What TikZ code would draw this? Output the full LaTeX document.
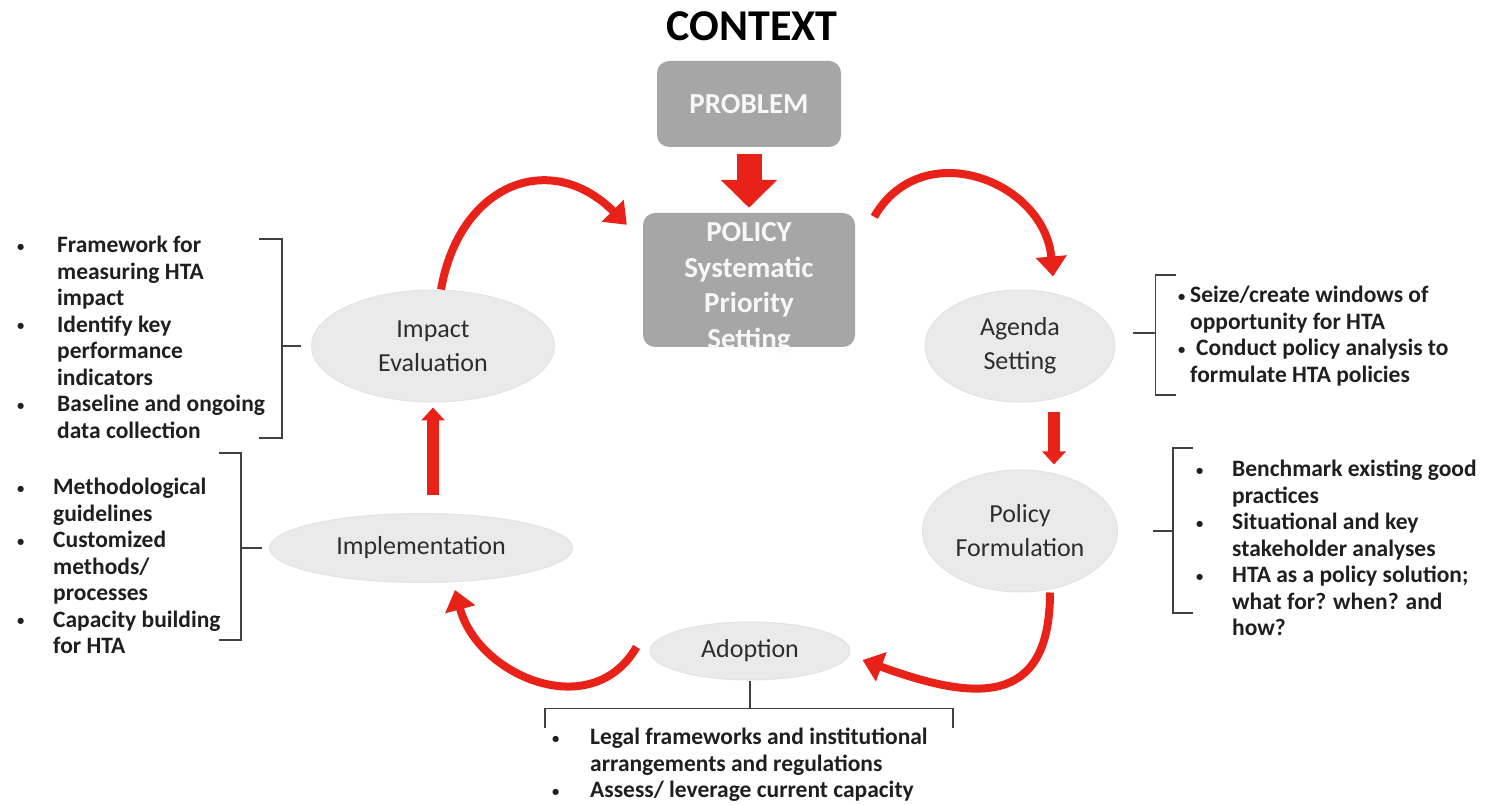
\documentclass[tikz,border=0pt]{standalone}
\usepackage{fontspec}
\usepackage{graphicx}
\setmainfont{Carlito}
\usetikzlibrary{shapes.geometric,arrows.meta,positioning}

\definecolor{boxgray}{RGB}{166,166,166}
\definecolor{ovalgray}{RGB}{234,234,234}
\definecolor{arrowred}{RGB}{232,34,24}
\definecolor{inkgray}{RGB}{45,45,45}

\newlength{\bulw}
\newcommand{\bul}{\strut\makebox[\bulw][l]{\raisebox{1.5pt}{\scalebox{0.62}{\textbullet}}}}
\newcommand{\ind}{\strut\hspace*{\bulw}}

\begin{document}
\begin{tikzpicture}[x=1pt,y=1pt,
    box/.style={rectangle,rounded corners=12pt,fill=boxgray,text=white!94!gray,
      font=\bfseries\fontsize{29}{35.5}\selectfont,align=center,inner sep=0pt},
    stage/.style={ellipse,fill=ovalgray,draw=gray!22,line width=1pt,text=inkgray,
      font=\fontsize{26}{34}\selectfont,align=center,inner sep=0pt},
    notes/.style={anchor=north west,inner sep=0pt,align=left,text=black!88,
      font=\bfseries\fontsize{23.5}{26.5}\selectfont},
    brace/.style={draw=black!75,line width=1.5pt},
    swoosh/.style={draw=arrowred,line width=8pt,-{Triangle[width=30pt,length=20pt]}},
    fatarrow/.style={draw=arrowred,line width=25pt,-{Triangle[width=55pt,length=28pt]}},
    thinarrow/.style={draw=arrowred,line width=12pt,-{Triangle[width=23pt,length=13pt]}}]

  \useasboundingbox (0,0) rectangle (1486,804);

  \node[font=\bfseries\fontsize{44}{50}\selectfont] (context) at (752,778) {CONTEXT};
  \node[box,minimum width=184pt,minimum height=86pt] (problem) at (749,700) {PROBLEM};
  \node[box,minimum width=212pt,minimum height=134pt] (policy) at (749,524)
    {\raisebox{-14pt}[0pt][0pt]{\begin{tabular}{@{}c@{}}POLICY\\Systematic\\Priority\\Setting\end{tabular}}};
  \node[stage,minimum width=243pt,minimum height=112pt] (impact) at (433,458) {Impact\\Evaluation};
  \node[stage,minimum width=190pt,minimum height=112pt] (agenda) at (1020,458) {Agenda\\Setting};
  \node[stage,minimum width=195pt,minimum height=122pt] (formulation) at (1020,273) {Policy\\Formulation};
  \node[stage,minimum width=200pt,minimum height=58pt] (adoption) at (750,153) {Adoption};
  \node[stage,minimum width=303pt,minimum height=69pt] (implementation) at (421,256) {Implementation};

  \setlength{\bulw}{40pt}
  \node[notes] (evalnotes) at (17,570)
    {\bul Framework for\\\ind measuring HTA\\\ind impact\\
     \bul Identify key\\\ind performance\\\ind indicators\\
     \bul Baseline and ongoing\\\ind data collection};
  \setlength{\bulw}{36pt}
  \node[notes] (implnotes) at (17,328)
    {\bul Methodological\\\ind guidelines\\
     \bul Customized\\\ind methods/\\\ind processes\\
     \bul Capacity building\\\ind for HTA};
  \setlength{\bulw}{12pt}
  \node[notes] (agendanotes) at (1178,520)
    {\bul Seize/create windows of\\\ind opportunity for HTA\\
     \bul\hspace{6pt}Conduct policy analysis to\\\ind formulate HTA policies};
  \setlength{\bulw}{36pt}
  \node[notes] (formnotes) at (1196,346)
    {\bul Benchmark existing good\\\ind practices\\
     \bul Situational and key\\\ind stakeholder analyses\\
     \bul HTA as a policy solution;\\\ind what for? when? and\\\ind how?};
  \setlength{\bulw}{38pt}
  \node[notes] (adoptnotes) at (552,78)
    {\bul Legal frameworks and institutional\\\ind arrangements and regulations\\
     \bul Assess/ leverage current capacity};

  \draw[fatarrow,shorten <=7pt,shorten >=5pt] (problem) -- (policy);
  \draw[thinarrow,shorten <=18pt,shorten >=5pt] (impact.south |- implementation.north) -- (impact.south);
  \draw[thinarrow,shorten <=10pt,shorten >=5pt] ([xshift=34pt]agenda.south) -- ([xshift=34pt]formulation.north);

  \draw[swoosh] ([xshift=8pt]impact.north) to[out=80,in=135,looseness=1.4]
    ([xshift=-16pt,yshift=-12pt]policy.north west);
  \draw[swoosh] ([xshift=19pt,yshift=-4pt]policy.north east) to[out=60,in=95,looseness=1.3]
    ([xshift=33pt,yshift=13pt]agenda.north);
  \draw[swoosh] ([xshift=30pt]formulation.south) to[out=-90,in=-20,looseness=1.5]
    ([xshift=12pt,yshift=-9pt]adoption.east);
  \draw[swoosh] ([xshift=-13pt,yshift=4pt]adoption.west) to[out=-120,in=-75,looseness=1.2]
    ([xshift=34pt,yshift=-7pt]implementation.south);

  \draw[brace] ([xshift=-10pt]impact.west) -- ++(-19,0) ++(-23,107) -- ++(23,0) -- ++(0,-199) -- ++(-23,0);
  \draw[brace] ([xshift=-7pt]implementation.west) -- ++(-21,0) ++(-22,95) -- ++(22,0) -- ++(0,-187) -- ++(-22,0);
  \draw[brace] ([xshift=17pt,yshift=13pt]agenda.east) -- ++(23,0) ++(20,58) -- ++(-20,0) -- ++(0,-120) -- ++(20,0);
  \draw[brace] ([xshift=35pt]formulation.east) -- ++(20,0) ++(20,83) -- ++(-20,0) -- ++(0,-165) -- ++(20,0);
  \draw[brace] (adoption.south) -- ++(0,-28) ++(-205,-19) -- ++(0,19) -- ++(408,0) -- ++(0,-19);
\end{tikzpicture}
\end{document}
